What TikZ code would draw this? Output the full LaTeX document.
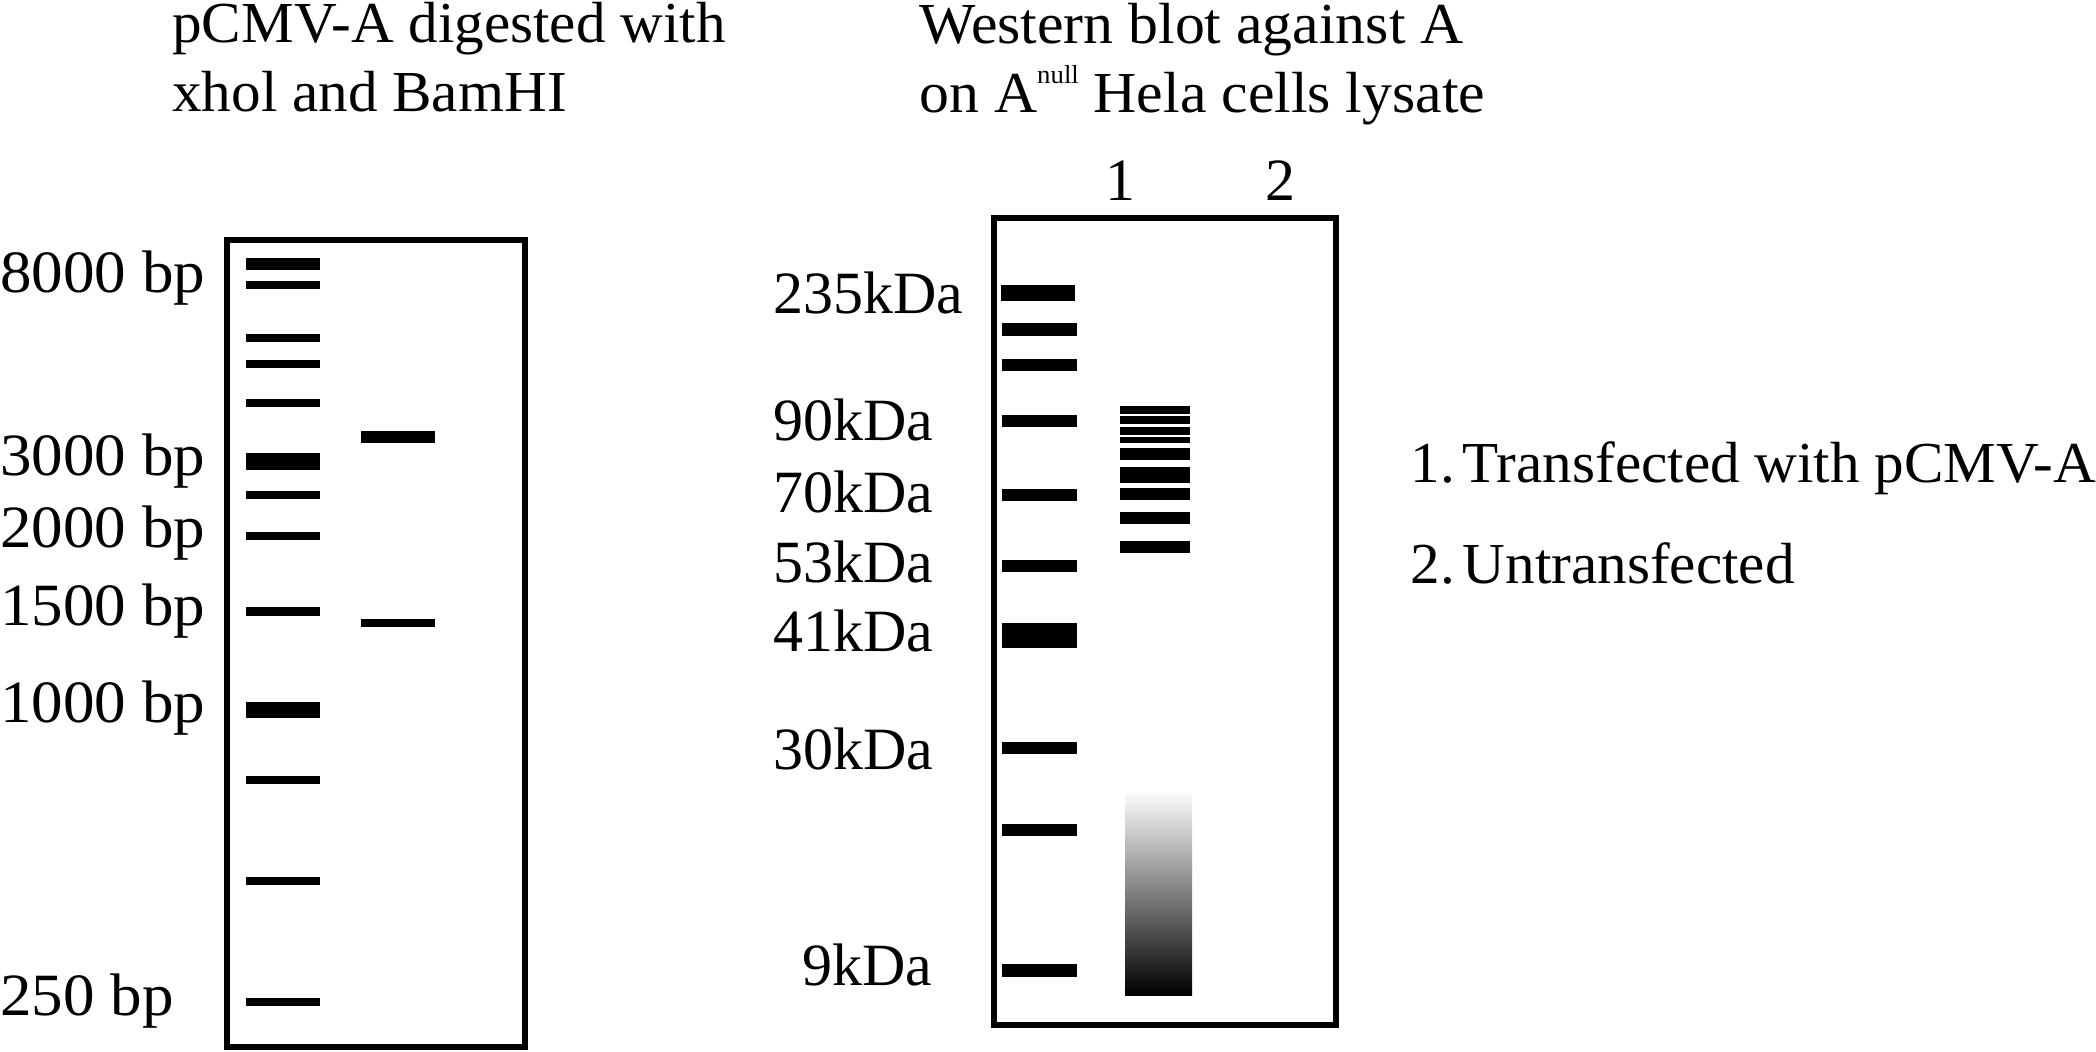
\documentclass[tikz,border=0pt]{standalone}
\usepackage{fontspec}
\setmainfont{Liberation Serif}
\newfontfamily\widelbl[FakeStretch=1.05]{Liberation Serif}
\newfontfamily\widettl[FakeStretch=1.03]{Liberation Serif}
\newfontfamily\widelegend[FakeStretch=1.02]{Liberation Serif}
\begin{document}
\begin{tikzpicture}[x=0.5pt,y=-0.5pt,
  bandfill/.style={fill=black},
  gelbox/.style={draw=black,line width=3pt},
  lbl/.style={anchor=base west,inner sep=0pt,font=\fontsize{30}{36}\selectfont},
  bplbl/.style={anchor=base west,inner sep=0pt,font=\widelbl\fontsize{30}{36}\selectfont},
  lanenum/.style={anchor=base,inner sep=0pt,font=\fontsize{30}{36}\selectfont},
  ttl/.style={anchor=base west,inner sep=0pt,font=\widelegend\fontsize{29}{35}\selectfont},
  wttl/.style={anchor=base west,inner sep=0pt,font=\widettl\fontsize{29}{35}\selectfont}]
\useasboundingbox[fill=white] (0,0) rectangle (2096,1051);

% ---------------- Left gel ----------------
\node[ttl] (t1a) at (172,42) {pCMV-A digested with};
\node[ttl] (t1b) at (172,111) {xhol and BamHI};
\draw[gelbox] (227,240) rectangle (525,1047);
% ladder
\foreach \a/\b in {258/270,281/289,334/342,360/368,399/407,453/470,491/499,532/540,607/616,702/718,776/784,877/885,998/1006}
  \fill[bandfill] (246,\a) rectangle (320,\b);
% sample
\fill[bandfill] (361,431) rectangle (435,443);
\fill[bandfill] (361,619) rectangle (435,627);
% labels
\node[bplbl] (l8000) at (0,292) {8000 bp};
\node[bplbl] (l3000) at (0,475) {3000 bp};
\node[bplbl] (l2000) at (0,547) {2000 bp};
\node[bplbl] (l1500) at (0,625) {1500 bp};
\node[bplbl] (l1000) at (0,722) {1000 bp};
\node[bplbl] (l250) at (0,1015) {250 bp};

% ---------------- Right gel ----------------
\node[wttl] (t2a) at (919,43) {Western blot against A};
\node[wttl] (t2b) at (919,112) {on A\raisebox{14.5pt}{\fontsize{13}{13}\selectfont null} Hela cells lysate};
\node[lanenum] (n1) at (1120,200) {1};
\node[lanenum] (n2) at (1280,200) {2};
\draw[gelbox] (994,217.5) rectangle (1336,1025);
% ladder
\fill[bandfill] (1001,285) rectangle (1075,301);
\foreach \a/\b in {323/336,359/371,415/427,489/501,560/572,623/648,742/754,824/836,964/977}
  \fill[bandfill] (1002,\a) rectangle (1077,\b);
% lane 1 bands
\foreach \a/\b in {406/414,416/424,427/435,437/443,448/460,467/483,488/500,512/524,541/553}
  \fill[bandfill] (1120,\a) rectangle (1190,\b);
% smear
\shade[top color=white,bottom color=black] (1125,790) rectangle (1192,995);
% labels
\node[lbl] (k235) at (773,313) {235kDa};
\node[lbl] (k90) at (773,440) {90kDa};
\node[lbl] (k70) at (773,512) {70kDa};
\node[lbl] (k53) at (773,582) {53kDa};
\node[lbl] (k41) at (773,651) {41kDa};
\node[lbl] (k30) at (773,769) {30kDa};
\node[lbl] (k9) at (802,985) {9kDa};

% ---------------- Legend ----------------
\node[ttl] (leg1) at (1410,482) {1.\hspace{4pt}Transfected with pCMV-A};
\node[ttl] (leg2) at (1410,583) {2.\hspace{4pt}Untransfected};
\end{tikzpicture}
\end{document}
